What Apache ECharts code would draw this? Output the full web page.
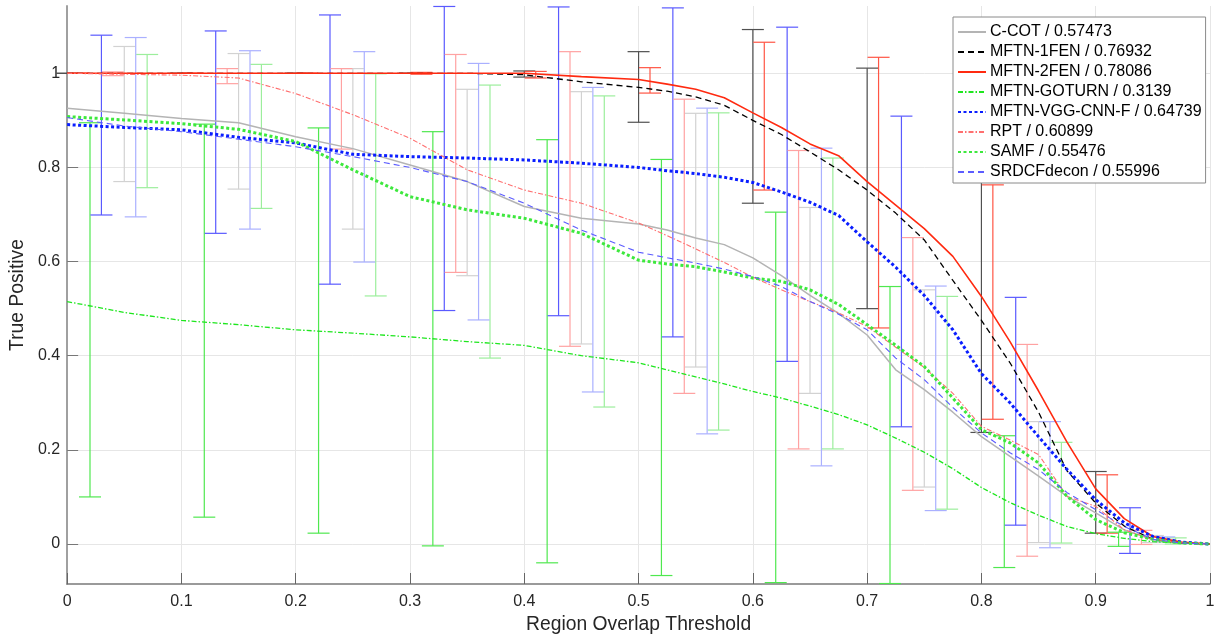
<!DOCTYPE html>
<html>
<head>
<meta charset="utf-8">
<script src="https://cdn.jsdelivr.net/npm/echarts@6/dist/echarts.min.js"></script>
<style>
  html, body { margin: 0; padding: 0; background: #ffffff; }
  #chart { width: 1225px; height: 644px; }
</style>
</head>
<body>
<div id="chart"></div>
<script>
// Overlap thresholds at which each success curve is sampled
const thresholds = [0, 0.05, 0.1, 0.15, 0.2, 0.25, 0.3, 0.35, 0.4, 0.45, 0.5,
  0.525, 0.55, 0.575, 0.6, 0.625, 0.65, 0.675, 0.7, 0.725, 0.75,
  0.775, 0.8, 0.825, 0.85, 0.875, 0.9, 0.925, 0.95, 0.975, 1];

// True-positive rate per tracker at each threshold
const ccot   = [0.926, 0.915, 0.904, 0.895, 0.865, 0.84, 0.805, 0.77, 0.717, 0.692, 0.68,
  0.667, 0.65, 0.636, 0.608, 0.57, 0.528, 0.49, 0.444, 0.37, 0.328,
  0.28, 0.228, 0.186, 0.144, 0.101, 0.066, 0.03, 0.009, 0.002, 0];
const fen1   = [1, 1, 1, 1, 1, 1, 1, 1, 0.997, 0.982, 0.97,
  0.962, 0.95, 0.932, 0.9, 0.87, 0.833, 0.795, 0.752, 0.703, 0.646,
  0.56, 0.475, 0.385, 0.28, 0.155, 0.087, 0.038, 0.01, 0.002, 0];
const fen2   = [1, 1, 1, 1, 1, 1, 1, 1, 1, 0.993, 0.987,
  0.977, 0.966, 0.948, 0.916, 0.885, 0.85, 0.825, 0.77, 0.72, 0.67,
  0.611, 0.526, 0.43, 0.325, 0.216, 0.117, 0.054, 0.016, 0.004, 0];
const goturn = [0.515, 0.492, 0.475, 0.466, 0.455, 0.448, 0.44, 0.43, 0.422, 0.40, 0.385,
  0.37, 0.355, 0.34, 0.324, 0.31, 0.293, 0.275, 0.253, 0.225, 0.195,
  0.16, 0.12, 0.088, 0.061, 0.037, 0.022, 0.012, 0.005, 0.002, 0];
const vgg    = [0.891, 0.885, 0.88, 0.864, 0.852, 0.828, 0.823, 0.82, 0.816, 0.809, 0.8,
  0.793, 0.787, 0.779, 0.768, 0.748, 0.726, 0.698, 0.642, 0.588, 0.528,
  0.455, 0.362, 0.30, 0.228, 0.158, 0.094, 0.045, 0.016, 0.004, 0];
const rpt    = [1.0, 0.998, 0.996, 0.99, 0.957, 0.912, 0.862, 0.795, 0.752, 0.724, 0.682,
  0.655, 0.627, 0.598, 0.567, 0.54, 0.515, 0.491, 0.462, 0.418, 0.375,
  0.32, 0.25, 0.221, 0.19, 0.101, 0.08, 0.03, 0.01, 0.002, 0];
const samf   = [0.908, 0.901, 0.893, 0.881, 0.855, 0.795, 0.738, 0.71, 0.692, 0.66, 0.603,
  0.595, 0.589, 0.578, 0.565, 0.558, 0.54, 0.509, 0.466, 0.422, 0.377,
  0.31, 0.243, 0.215, 0.172, 0.101, 0.052, 0.024, 0.01, 0.002, 0];
const srdcf  = [0.906, 0.888, 0.876, 0.86, 0.844, 0.823, 0.80, 0.77, 0.724, 0.667, 0.62,
  0.608, 0.597, 0.584, 0.568, 0.547, 0.515, 0.488, 0.455, 0.395, 0.349,
  0.29, 0.236, 0.194, 0.158, 0.109, 0.073, 0.037, 0.01, 0.002, 0];

// Error-bar positions (each tracker is shifted by its own offset) and spread limits
const barX_fen1   = [0.00, 0.10, 0.20, 0.30, 0.40, 0.50, 0.60, 0.70, 0.80, 0.90];
const barLo_fen1  = [1.0, 1.0, 1.0, 1.0, 0.992, 0.896, 0.724, 0.5, 0.237, 0.023];
const barHi_fen1  = [1.0, 1.0, 1.0, 1.0, 1.005, 1.046, 1.093, 1.011, 0.771, 0.154];

const barX_fen2   = [0.01, 0.11, 0.21, 0.31, 0.41, 0.51, 0.61, 0.71, 0.81, 0.91];
const barLo_fen2  = [1.0, 1.0, 1.0, 0.998, 0.99, 0.958, 0.752, 0.459, 0.265, 0.023];
const barHi_fen2  = [1.0, 1.0, 1.0, 1.002, 1.004, 1.012, 1.066, 1.034, 0.763, 0.147];

const barX_goturn  = [0.02, 0.12, 0.22, 0.32, 0.42, 0.52, 0.62, 0.72, 0.82, 0.92];
const barLo_goturn = [0.1, 0.057, 0.023, -0.004, -0.04, -0.067, -0.082, -0.084, -0.05, -0.005];
const barHi_goturn = [0.895, 0.892, 0.884, 0.876, 0.859, 0.817, 0.705, 0.547, 0.23, 0.025];

const barX_vgg    = [0.03, 0.13, 0.23, 0.33, 0.43, 0.53, 0.63, 0.73, 0.83, 0.93];
const barLo_vgg   = [0.699, 0.66, 0.552, 0.496, 0.485, 0.44, 0.388, 0.249, 0.04, -0.02];
const barHi_vgg   = [1.081, 1.09, 1.124, 1.142, 1.141, 1.139, 1.098, 0.909, 0.524, 0.077];

const barX_rpt    = [0.04, 0.14, 0.24, 0.34, 0.44, 0.54, 0.64, 0.74, 0.84, 0.94];
const barLo_rpt   = [0.995, 0.978, 0.839, 0.577, 0.42, 0.32, 0.202, 0.114, -0.026, -0.001];
const barHi_rpt   = [1.003, 1.01, 1.01, 1.04, 1.046, 0.945, 0.836, 0.651, 0.424, 0.029];

const barX_ccot   = [0.05, 0.15, 0.25, 0.35, 0.45, 0.55, 0.65, 0.75, 0.85, 0.95];
const barLo_ccot  = [0.77, 0.754, 0.669, 0.57, 0.425, 0.376, 0.32, 0.121, 0.003, 0.003];
const barHi_ccot  = [1.057, 1.042, 1.01, 0.966, 0.961, 0.915, 0.715, 0.54, 0.26, 0.018];

const barX_srdcf  = [0.06, 0.16, 0.26, 0.36, 0.46, 0.56, 0.66, 0.76, 0.86, 0.96];
const barLo_srdcf = [0.695, 0.669, 0.599, 0.476, 0.323, 0.234, 0.166, 0.071, -0.008, 0.006];
const barHi_srdcf = [1.076, 1.048, 1.046, 1.021, 0.97, 0.926, 0.841, 0.548, 0.26, 0.015];

const barX_samf   = [0.07, 0.17, 0.27, 0.37, 0.47, 0.57, 0.67, 0.77, 0.87, 0.97];
const barLo_samf  = [0.757, 0.713, 0.527, 0.395, 0.291, 0.242, 0.202, 0.074, 0.002, 0.0];
const barHi_samf  = [1.04, 1.019, 0.999, 0.975, 0.952, 0.916, 0.82, 0.526, 0.216, 0.013];

// Legend entries
const names = [
  'C-COT / 0.57473',
  'MFTN-1FEN / 0.76932',
  'MFTN-2FEN / 0.78086',
  'MFTN-GOTURN / 0.3139',
  'MFTN-VGG-CNN-F / 0.64739',
  'RPT / 0.60899',
  'SAMF / 0.55476',
  'SRDCFdecon / 0.55996'
];

// Axis tick values
const yTicks = [0, 0.2, 0.4, 0.6, 0.8, 1];

const FONT = 'Liberation Sans, Arial, Helvetica, sans-serif';

function curve(name, values, color, width, dash) {
  return {
    type: 'line',
    name: name,
    data: thresholds.map((t, i) => [t, values[i]]),
    symbol: 'none',
    showSymbol: false,
    lineStyle: { color: color, width: width, type: dash, cap: 'butt' },
    itemStyle: { color: color },
    z: 3,
    silent: true,
    animation: false
  };
}

function errorBars(xs, lows, highs, color) {
  return {
    type: 'custom',
    data: xs.map((x, i) => [x, lows[i], highs[i]]),
    encode: { x: 0, y: [1, 2] },
    z: 2,
    silent: true,
    animation: false,
    clip: false,
    renderItem: function (params, api) {
      const x = api.value(0);
      const lo = api.coord([x, api.value(1)]);
      const hi = api.coord([x, api.value(2)]);
      const cap = 11;
      const style = { stroke: color, lineWidth: 1.2, fill: null };
      return {
        type: 'group',
        children: [
          { type: 'line', shape: { x1: lo[0], y1: lo[1], x2: hi[0], y2: hi[1] }, style: style },
          { type: 'line', shape: { x1: lo[0] - cap, y1: lo[1], x2: lo[0] + cap, y2: lo[1] }, style: style },
          { type: 'line', shape: { x1: hi[0] - cap, y1: hi[1], x2: hi[0] + cap, y2: hi[1] }, style: style }
        ]
      };
    }
  };
}

const chart = echarts.init(document.getElementById('chart'), null, { renderer: 'canvas' });

chart.setOption({
  backgroundColor: '#ffffff',
  animation: false,
  textStyle: { fontFamily: FONT },
  grid: { left: 64, right: 15, top: 6, bottom: 60, containLabel: false },
  legend: {
    data: names,
    orient: 'vertical',
    left: 953,
    top: 17,
    padding: [7, 4, 3, 4],
    itemWidth: 28,
    itemHeight: 14,
    itemGap: 4,
    backgroundColor: '#ffffff',
    borderColor: '#8a8a8a',
    borderWidth: 1,
    borderRadius: 0,
    selectedMode: false,
    // line-only keys: hide the marker that line series add to their legend icon
    itemStyle: { color: 'rgba(0,0,0,0)', borderColor: 'rgba(0,0,0,0)', borderWidth: 0 },
    textStyle: { fontSize: 16, color: '#000000', fontFamily: FONT, lineHeight: 16, padding: [0, 0, 0, -1] }
  },
  xAxis: {
    type: 'value',
    min: 0,
    max: 1,
    interval: 0.1,
    name: 'Region Overlap Threshold',
    nameLocation: 'middle',
    nameGap: 30,
    nameTextStyle: { fontSize: 19.3, color: '#262626', fontFamily: FONT },
    axisLine: { show: true, onZero: false, lineStyle: { color: '#7a7a7a', width: 1.5 } },
    axisTick: { show: true, inside: true, length: 11, lineStyle: { color: '#666666', width: 1 } },
    axisLabel: { fontSize: 16, color: '#262626', margin: 10, fontFamily: FONT },
    splitLine: { show: true, lineStyle: { color: '#e6e6e6', width: 1 } }
  },
  yAxis: {
    type: 'value',
    min: -0.085,
    max: 1.143,
    name: 'True Positive',
    nameLocation: 'middle',
    nameGap: 35,
    nameTextStyle: { fontSize: 19.3, color: '#262626', fontFamily: FONT },
    axisLine: { show: true, onZero: false, lineStyle: { color: '#a0a0a0', width: 2 } },
    axisTick: { show: true, inside: true, length: 11, customValues: yTicks, lineStyle: { color: '#777777', width: 1 } },
    axisLabel: { fontSize: 16, color: '#262626', margin: 7, fontFamily: FONT, customValues: yTicks },
    splitLine: { show: true, lineStyle: { color: '#e6e6e6', width: 1 } }
  },
  series: [
    errorBars(barX_ccot, barLo_ccot, barHi_ccot, '#d2d2d2'),
    errorBars(barX_fen1, barLo_fen1, barHi_fen1, '#505050'),
    errorBars(barX_fen2, barLo_fen2, barHi_fen2, '#ff5544'),
    errorBars(barX_goturn, barLo_goturn, barHi_goturn, '#4fe84f'),
    errorBars(barX_vgg, barLo_vgg, barHi_vgg, '#5a5aff'),
    errorBars(barX_rpt, barLo_rpt, barHi_rpt, '#ffa2a2'),
    errorBars(barX_samf, barLo_samf, barHi_samf, '#9cee9c'),
    errorBars(barX_srdcf, barLo_srdcf, barHi_srdcf, '#aab0ff'),
    curve(names[0], ccot, '#b4b4b4', 1.5, 'solid'),
    curve(names[1], fen1, '#000000', 1.3, [6, 4]),
    curve(names[2], fen2, '#ff2a10', 1.6, 'solid'),
    curve(names[3], goturn, '#1ee61e', 1.3, [5, 2, 1.5, 2]),
    curve(names[4], vgg, '#0a1eff', 3, [3, 2.5]),
    curve(names[5], rpt, '#ff6f6f', 1.1, [5, 2, 1.5, 2]),
    curve(names[6], samf, '#3de83d', 3, [3, 2.5]),
    curve(names[7], srdcf, '#5c5cff', 1.1, [6, 4])
  ]
});
</script>
</body>
</html>
